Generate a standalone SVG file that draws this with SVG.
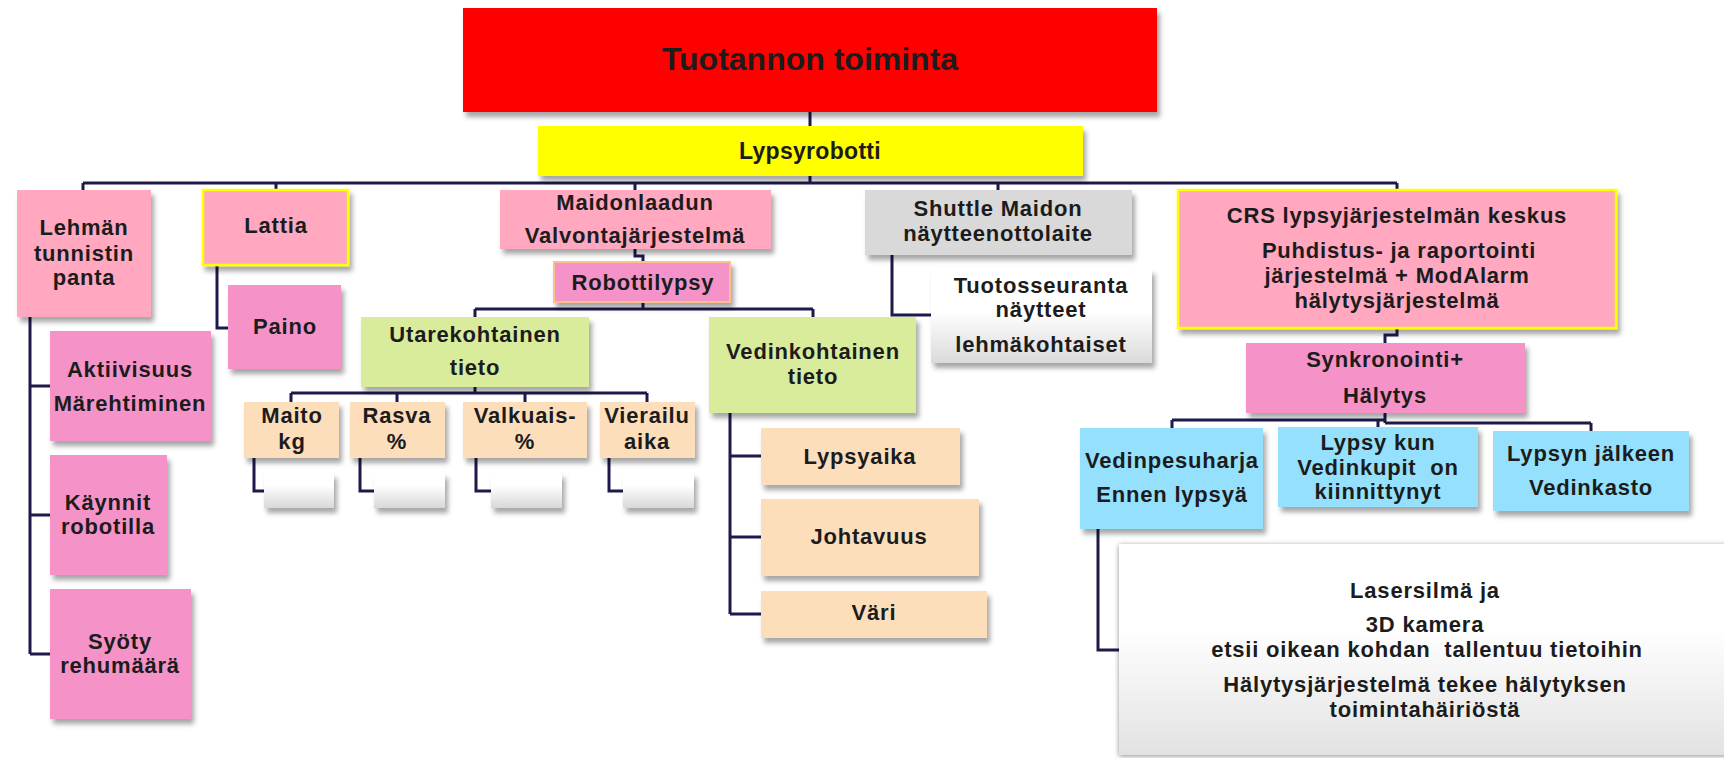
<svg xmlns="http://www.w3.org/2000/svg" width="1724" height="758" viewBox="0 0 1724 758">
<defs>
<filter id="sh" x="-10%" y="-10%" width="130%" height="140%">
<feDropShadow dx="3" dy="5" stdDeviation="2.5" flood-color="#000" flood-opacity="0.35"/>
</filter>
<filter id="sh2" x="-5%" y="-5%" width="110%" height="110%">
<feDropShadow dx="0" dy="1" stdDeviation="2.5" flood-color="#000" flood-opacity="0.45"/>
</filter>
<linearGradient id="wg" x1="0" y1="0" x2="0" y2="1">
<stop offset="0" stop-color="#ffffff"/>
<stop offset="0.45" stop-color="#ffffff"/>
<stop offset="1" stop-color="#dadada"/>
</linearGradient>
<linearGradient id="wg2" x1="0" y1="0" x2="0" y2="1">
<stop offset="0" stop-color="#ffffff"/>
<stop offset="0.35" stop-color="#ffffff"/>
<stop offset="1" stop-color="#d8d8d8"/>
</linearGradient>
<linearGradient id="wg3" x1="0" y1="0" x2="0" y2="1">
<stop offset="0" stop-color="#ffffff"/>
<stop offset="0.4" stop-color="#ffffff"/>
<stop offset="1" stop-color="#e2e2e2"/>
</linearGradient>
<style>
.b{filter:url(#sh)}
.lp{fill:#FFA8C0}
.hp{fill:#F593C8}
.gr{fill:#D8EC9C}
.pe{fill:#FDDEBB}
.bl{fill:#95E1FD}
.gy{fill:#D9D9D9}
.yb{stroke:#FFFF00;stroke-width:2.5}
text{font-family:"Liberation Sans",Arial,sans-serif;font-weight:bold;font-size:22px;fill:#1C1C1C;text-anchor:middle;letter-spacing:0.8px}
.c path{fill:none;stroke:#1C1A4A;stroke-width:3}
</style>
</defs>
<rect width="1724" height="758" fill="#ffffff"/>
<g class="c" id="connectors">
<path d="M810 112V126M810 176V183M83 183H1397M83 183V190M276 183V190M635 183V190M998 183V190M1397 183V190"/>
<path d="M30 317V654M30 386H50M30 515H50M30 654H50"/>
<path d="M217 265V328H228"/>
<path d="M635 249V256H643V262M643 302V309M475 309H813M475 309V317M813 309V317"/>
<path d="M475 387V393M291 393H647M291 393V402M397 393V402M525 393V402M647 393V402"/>
<path d="M254 458V491H264M360 458V491H374M476 458V491H491M609 458V491H623"/>
<path d="M730 413V614M730 456H761M730 537H761M730 614H761"/>
<path d="M892 255V315H931"/>
<path d="M1397 328V335H1385V343M1385 413V423M1172 420H1385M1385 423H1591M1172 420V428M1378 420V427M1591 423V431"/>
<path d="M1098 529V650H1119"/>
</g>
<g id="n-root"><rect class="b" x="463" y="8" width="694" height="104" fill="#FF0000"/><text x="810" y="70" style="font-size:32px;letter-spacing:0">Tuotannon toiminta</text></g>
<g id="n-lypsyrobotti"><rect class="b" x="538" y="126" width="545" height="50" fill="#FFFF00"/><text x="810" y="159" style="font-size:23px;letter-spacing:0.3px">Lypsyrobotti</text></g>
<g id="n-lehman"><rect class="b lp" x="17" y="190" width="134" height="127"/><text x="84" y="235">Lehmän</text><text x="84" y="261">tunnistin</text><text x="84" y="285">panta</text></g>
<g id="n-lattia"><rect class="b lp yb" x="203" y="190" width="145" height="75"/><text x="276" y="233">Lattia</text></g>
<g id="n-paino"><rect class="b hp" x="228" y="285" width="113" height="84"/><text x="285" y="334">Paino</text></g>
<g id="n-maidon"><rect class="b lp" x="500" y="190" width="271" height="59"/><text x="635" y="210">Maidonlaadun</text><text x="635" y="243">Valvontajärjestelmä</text></g>
<g id="n-robotti"><rect class="b hp" x="554" y="262" width="176" height="40" stroke="#FAC090" stroke-width="2"/><text x="643" y="290">Robottilypsy</text></g>
<g id="n-shuttle"><rect class="b gy" x="865" y="190" width="267" height="65"/><text x="998" y="216">Shuttle Maidon</text><text x="998" y="241">näytteenottolaite</text></g>
<g id="n-tuotos"><rect class="b" x="931" y="269" width="221" height="94" fill="url(#wg)"/><text x="1041" y="293">Tuotosseuranta</text><text x="1041" y="317">näytteet</text><text x="1041" y="352">lehmäkohtaiset</text></g>
<g id="n-crs"><rect class="b lp yb" x="1178" y="190" width="438" height="138"/><text x="1397" y="223">CRS lypsyjärjestelmän keskus</text><text x="1399" y="258">Puhdistus- ja raportointi</text><text x="1397" y="283">järjestelmä + ModAlarm</text><text x="1397" y="308">hälytysjärjestelmä</text></g>
<g id="n-aktiivisuus"><rect class="b hp" x="50" y="331" width="161" height="110"/><text x="130" y="377">Aktiivisuus</text><text x="130" y="411">Märehtiminen</text></g>
<g id="n-kaynnit"><rect class="b hp" x="50" y="455" width="117" height="120"/><text x="108" y="510">Käynnit</text><text x="108" y="534">robotilla</text></g>
<g id="n-syoty"><rect class="b hp" x="50" y="589" width="141" height="130"/><text x="120" y="649">Syöty</text><text x="120" y="673">rehumäärä</text></g>
<g id="n-utare"><rect class="b gr" x="361" y="317" width="228" height="70"/><text x="475" y="342">Utarekohtainen</text><text x="475" y="375">tieto</text></g>
<g id="n-vedink"><rect class="b gr" x="709" y="317" width="207" height="96"/><text x="813" y="359">Vedinkohtainen</text><text x="813" y="384">tieto</text></g>
<g id="n-maito"><rect class="b pe" x="244" y="402" width="95" height="56"/><text x="292" y="423">Maito</text><text x="292" y="449">kg</text></g>
<g id="n-rasva"><rect class="b pe" x="350" y="402" width="95" height="56"/><text x="397" y="423">Rasva</text><text x="397" y="449">%</text></g>
<g id="n-valkuais"><rect class="b pe" x="463" y="402" width="124" height="56"/><text x="525" y="423">Valkuais-</text><text x="525" y="449">%</text></g>
<g id="n-vierailu"><rect class="b pe" x="600" y="402" width="95" height="56"/><text x="647" y="423">Vierailu</text><text x="647" y="449">aika</text></g>
<g id="n-e1"><rect class="b" x="264" y="473" width="70" height="35" fill="url(#wg2)"/></g>
<g id="n-e2"><rect class="b" x="374" y="473" width="71" height="35" fill="url(#wg2)"/></g>
<g id="n-e3"><rect class="b" x="491" y="473" width="71" height="35" fill="url(#wg2)"/></g>
<g id="n-e4"><rect class="b" x="623" y="473" width="71" height="35" fill="url(#wg2)"/></g>
<g id="n-lypsyaika"><rect class="b pe" x="761" y="428" width="199" height="57"/><text x="860" y="464">Lypsyaika</text></g>
<g id="n-johtavuus"><rect class="b pe" x="761" y="499" width="218" height="77"/><text x="869" y="544">Johtavuus</text></g>
<g id="n-vari"><rect class="b pe" x="761" y="591" width="226" height="47"/><text x="874" y="620">Väri</text></g>
<g id="n-synk"><rect class="b hp" x="1246" y="343" width="279" height="70"/><text x="1385" y="367">Synkronointi+</text><text x="1385" y="403">Hälytys</text></g>
<g id="n-vedinpesu"><rect class="b bl" x="1080" y="428" width="183" height="101"/><text x="1172" y="468">Vedinpesuharja</text><text x="1172" y="502">Ennen lypsyä</text></g>
<g id="n-lypsykun"><rect class="b bl" x="1278" y="427" width="200" height="80"/><text x="1378" y="450">Lypsy kun</text><text x="1378" y="475" xml:space="preserve">Vedinkupit  on</text><text x="1378" y="499">kiinnittynyt</text></g>
<g id="n-lypsyn"><rect class="b bl" x="1493" y="431" width="196" height="80"/><text x="1591" y="461">Lypsyn jälkeen</text><text x="1591" y="495">Vedinkasto</text></g>
<g id="n-laser"><rect x="1119" y="544" width="620" height="211" fill="url(#wg3)" filter="url(#sh2)"/><text x="1425" y="598">Lasersilmä ja</text><text x="1425" y="632">3D kamera</text><text x="1427" y="657" xml:space="preserve">etsii oikean kohdan  tallentuu tietoihin</text><text x="1425" y="692">Hälytysjärjestelmä tekee hälytyksen</text><text x="1425" y="717">toimintahäiriöstä</text></g>
</svg>
